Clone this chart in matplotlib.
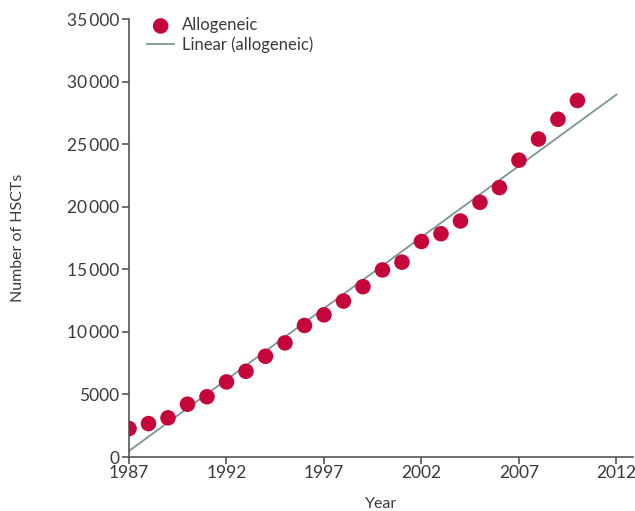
import matplotlib
matplotlib.use('Agg')
import matplotlib.pyplot as plt
import numpy as np
from matplotlib.ticker import FuncFormatter


years = np.arange(1987, 2011)
allogeneic = [
    2270, 2670, 3130, 4220, 4815, 6000, 6850, 8050, 9120, 10510, 11360, 12460,
    13610, 14950, 15570, 17220, 17840, 18860, 20350, 21530, 23720, 25410,
    26990, 28490,
]
x_ticks = [1987, 1992, 1997, 2002, 2007, 2012]
y_ticks = [0, 5000, 10000, 15000, 20000, 25000, 30000, 35000]

dot_color = '#c4063a'
trend_color = '#7b9597'
axis_color = '#555555'
text_color = '#3a3a3a'

plt.rcParams['font.family'] = ['Lato', 'DejaVu Sans']


def thousands(value, _position):
    value = int(round(value))
    if value >= 10000:
        return f'{value:,}'.replace(',', '\u2009')
    return str(value)


# Linear trend fitted to the yearly counts, extended to 2012
slope, intercept = np.polyfit(years, allogeneic, 1)
trend_x = np.array([x_ticks[0], x_ticks[-1]])
trend_y = slope * trend_x + intercept

fig = plt.figure(figsize=(6.35, 5.11), dpi=100)
ax = fig.add_axes([129 / 635, 54 / 511, (633 - 129) / 635, (457 - 19) / 511])

ax.plot(trend_x, trend_y, color=trend_color, linewidth=1.3,
        label='Linear (allogeneic)', zorder=2)
ax.scatter(years, allogeneic, s=125, color=dot_color, edgecolors='none',
           label='Allogeneic', zorder=3)

ax.set_xlim(1987, 2012.85)
ax.set_ylim(0, 35000)
ax.set_xticks(x_ticks)
ax.set_yticks(y_ticks)
ax.yaxis.set_major_formatter(FuncFormatter(thousands))

for side in ('top', 'right'):
    ax.spines[side].set_visible(False)
for side in ('left', 'bottom'):
    ax.spines[side].set_color(axis_color)
    ax.spines[side].set_linewidth(1.2)
ax.tick_params(axis='both', colors=axis_color, width=1.2, length=5,
               labelsize=12.5, labelcolor=text_color)
ax.tick_params(axis='y', pad=2)
ax.tick_params(axis='x', pad=1)

ax.set_xlabel('Year', fontsize=11.5, color=text_color, labelpad=11)
ax.set_ylabel('Number of HSCTs', fontsize=11.5, color=text_color, labelpad=30)

handles, labels = ax.get_legend_handles_labels()
ax.legend(handles[::-1], labels[::-1], loc='upper left',
          bbox_to_anchor=(139 / 635, 1 - 9 / 511), bbox_transform=fig.transFigure,
          frameon=False, fontsize=12, handlelength=1.6, handletextpad=0.45,
          labelspacing=0.2, borderpad=0, labelcolor=text_color)

fig.savefig('out.png', dpi=100)
